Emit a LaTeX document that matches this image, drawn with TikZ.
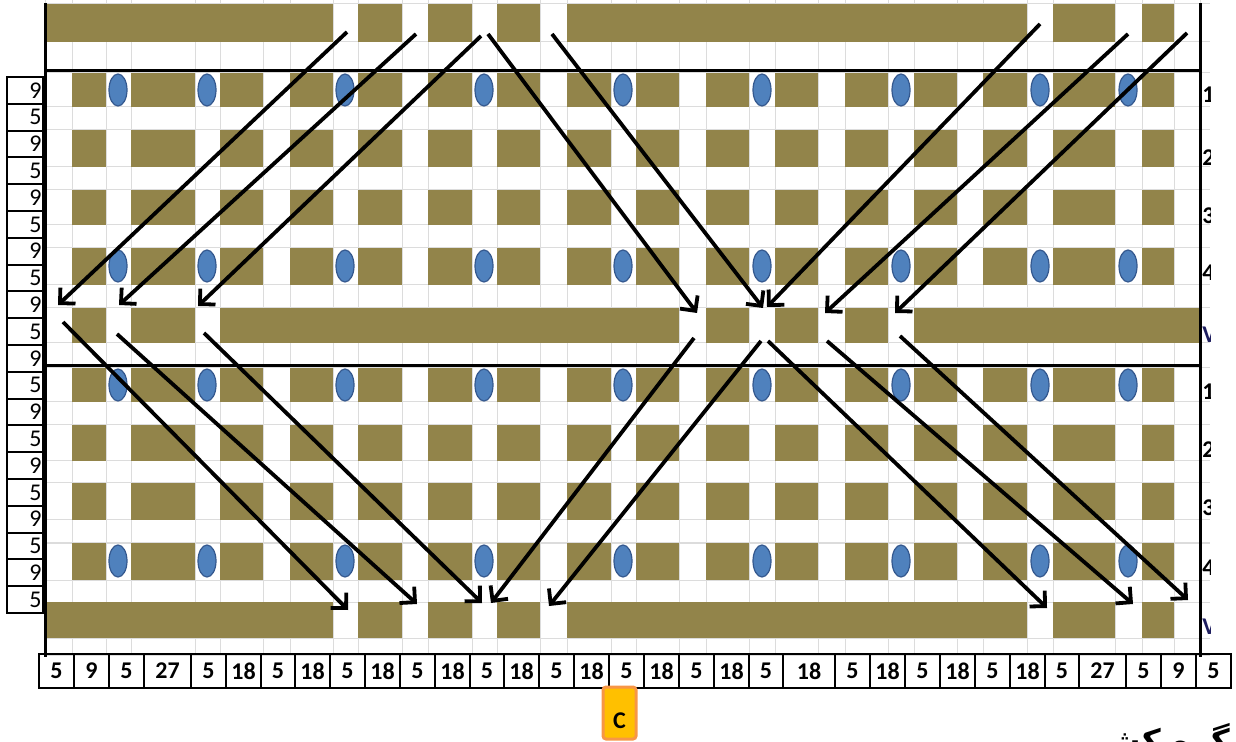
\documentclass[tikz,border=0pt]{standalone}
\usepackage{fontspec}
\setmainfont{Carlito}
\newfontfamily\arabicfont[Script=Arabic]{DejaVu Sans}
\TeXXeTstate=1
\usepackage{tikz}
\usetikzlibrary{arrows.meta}
\definecolor{WeftBrown}{RGB}{146,132,74}
\definecolor{KnotBlue}{RGB}{79,129,189}
\definecolor{KnotEdge}{RGB}{52,88,142}
\definecolor{GridGrey}{RGB}{220,220,220}
\definecolor{CGold}{RGB}{255,192,0}
\definecolor{COrange}{RGB}{247,150,70}
\definecolor{LabNavy}{RGB}{30,30,95}

\begin{document}
\begin{tikzpicture}[x=0.5pt,y=-0.5pt,font=\fontsize{12}{14}\selectfont,
  cell/.style={draw,line width=1.2pt,inner sep=0pt},
  warp/.style={line width=1.9pt,-{Straight Barb[length=5.5pt,width=11pt]}},
  knot/.style={fill=KnotBlue,draw=KnotEdge,line width=0.6pt},
  axis/.style={line width=1.5pt}]
\useasboundingbox (0,0) rectangle (1236,742);
\foreach \x in {45,72,106,131,195,220,263,290,333,358,402,428,472,497,540,567,611,
  636,679,706,749,775,818,845,888,914,957,983,1027,1053,1115,1142,1174,1200}
  \draw[GridGrey,line width=0.5pt] (\x,0) -- (\x,655);
\foreach \y in {4,42,73,107,130,167,190,225,248,285,308,343,368,402,425,461,483,520,
  543,580,602,638,655}
  \draw[GridGrey,line width=0.5pt] (45,\y) -- (1210,\y);
\foreach \t/\b in {73/107,130/167,190/225,248/285,368/402,425/461,483/520,543/580}
  \foreach \l/\r in {72/106,131/195,220/263,290/333,358/402,428/472,497/540,567/611,
    636/679,706/749,775/818,845/888,914/957,983/1027,1053/1115,1142/1174}
    \fill[WeftBrown] (\l,\t) rectangle (\r,\b);
\foreach \t/\b in {4/42,602/638}
  \foreach \l/\r in {45/333,358/402,428/472,497/540,567/1027,1053/1115,1142/1174}
    \fill[WeftBrown] (\l,\t) rectangle (\r,\b);
\foreach \l/\r in {72/106,131/195,220/679,706/749,775/818,845/888,914/1200}
  \fill[WeftBrown] (\l,308) rectangle (\r,343);
\foreach \y in {90,266,385,561}
  \foreach \x in {118,207,345,484,623,762,901,1040,1128}
    \draw[knot] (\x,\y) ellipse [x radius=9,y radius=16];
\draw[axis] (45,3) -- (45,657);
\draw[axis] (1200,3) -- (1200,657);
\draw[axis] (45,71) -- (1200,71);
\draw[axis] (45,366) -- (1200,366);
\foreach \i/\sx/\sy/\ex/\ey in {1/347/32/58/305, 2/416/34/119/305, 3/481/36/198/306,
  4/488/34/697/313, 5/552/34/763/308, 6/1040/24/767/307, 7/1128/34/825/313,
  8/1187/33/895/313, 9/63/322/348/610, 10/117/334/417/604, 11/204/333/482/603,
  12/694/338/491/603, 13/761/341/549/606, 14/768/341/1047/608, 15/827/341/1133/604,
  16/900/336/1188/600}{
  \coordinate (s\i) at (\sx,\sy);
  \coordinate (e\i) at (\ex,\ey);
  \draw[warp] (s\i) -- (e\i);
}
\foreach \v [count=\k from 0] in {9,5,9,5,9,5,9,5,9,5,9,5,9,5,9,5,9,5,9,5}
  \node[cell,line width=1pt,anchor=north west,minimum height=13.4pt,text width=16.5pt,
    inner xsep=0.75pt,align=right] (l\k) at (6,{76+26.8*\k}) {\v};
\foreach \l/\r/\v [count=\k] in {39/74/5,74/109/9,109/144/5,144/191/27,191/226/5,
  226/261/18,261/295/5,295/330/18,330/365/5,365/400/18,400/435/5,435/470/18,470/504/5,
  504/539/18,539/574/5,574/609/18,609/644/5,644/679/18,679/714/5,714/749/18,749/783/5,
  783/835/18,835/870/5,870/905/18,905/940/5,940/975/18,975/1010/5,1010/1045/18,
  1045/1079/5,1079/1126/27,1126/1161/5,1161/1196/9,1196/1231/5}
  \node[cell,font=\fontsize{12}{14}\bfseries,minimum width={(\r-\l)*0.5pt},
    minimum height=17pt] (b\k) at ({(\l+\r)/2},671) {\v};
\node[draw=COrange,fill=CGold,line width=1.5pt,rounded corners=1.5pt,inner sep=0pt,
  minimum width=16.5pt,minimum height=26pt,text height=15pt,text depth=0pt,
  font=\fontsize{12}{14}\bfseries] (cbox) at (619.5,713) {C};
\begin{scope}
\clip (1201,0) rectangle (1210,650);
\foreach \y/\t [count=\k] in {95/1,158/2,216/3,273/4,392/1,450/2,508/3,568/4}
  \node[anchor=west,inner sep=0pt,font=\fontsize{12}{14}\bfseries] (row\k) at (1202,\y) {\t};
\foreach \y [count=\k] in {335,627}
  \node[anchor=west,inner sep=0pt,text=LabNavy,font=\fontsize{12}{14}\bfseries] (rowv\k) at (1202,\y) {V};
\end{scope}
\begin{scope}
\clip (0,0) rectangle (1236,742);
\node[anchor=base east,inner sep=0pt,font=\arabicfont\bfseries\fontsize{16}{18}\selectfont] (cap)
  at (1230,752) {\beginR گره کشی\endR};
\end{scope}
\end{tikzpicture}
\end{document}
